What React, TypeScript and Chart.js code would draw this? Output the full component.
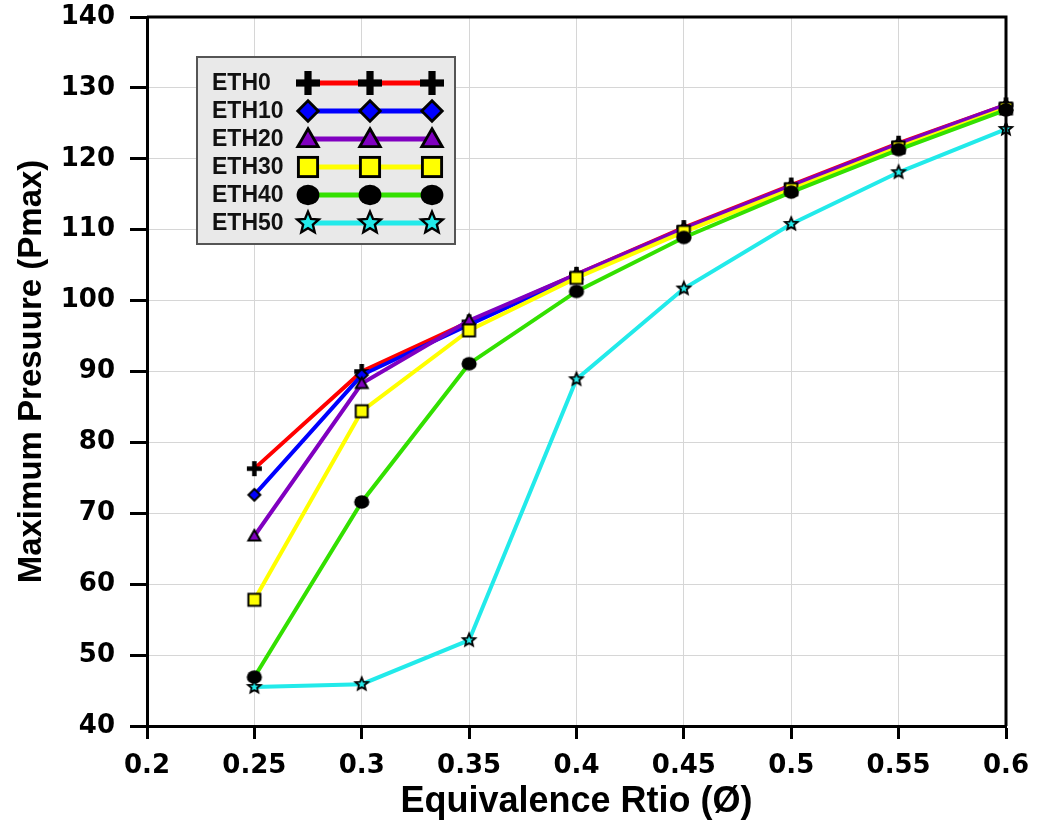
import React, { useEffect, useRef } from 'react';
import { Chart, registerables } from 'chart.js';

Chart.register(...registerables);

const ratios = [0.25, 0.3, 0.35, 0.4, 0.45, 0.5, 0.55, 0.6];
const seriesNames = ['ETH0', 'ETH10', 'ETH20', 'ETH30', 'ETH40', 'ETH50'];
const eth0 = [76.3, 90.0, 97.0, 103.7, 110.3, 116.3, 122.2, 127.6];
const eth10 = [72.6, 89.5, 96.6, 103.5, 110.0, 116.0, 122.0, 127.4];
const eth20 = [66.8, 88.3, 97.2, 103.7, 110.2, 116.2, 122.1, 127.6];
const eth30 = [57.8, 84.4, 95.8, 103.2, 109.7, 115.7, 121.6, 127.1];
const eth40 = [46.9, 71.6, 91.1, 101.3, 108.9, 115.3, 121.3, 126.9];
const eth50 = [45.5, 45.9, 52.1, 88.9, 101.7, 110.8, 118.1, 124.2];
const seriesValues = [eth0, eth10, eth20, eth30, eth40, eth50];
const seriesColors = ['#ff0000', '#0000ff', '#8000c0', '#ffff00', '#33e000', '#22eaea'];
const markerTypes = ['plus', 'diamond', 'triangle', 'square', 'circle', 'star'];
const markerFills = ['#000000', '#0000ff', '#8000c0', '#ffff00', '#000000', '#22eaea'];
const xMin = 0.2;
const xMax = 0.6;
const xStep = 0.05;
const yMin = 40;
const yMax = 140;
const yStep = 10;

function drawMarker(ctx: CanvasRenderingContext2D, type: string, cx: number, cy: number, size: number, fill: string) {
  const r = size / 2;
  ctx.save();
  ctx.lineJoin = 'miter';
  ctx.strokeStyle = '#000';
  ctx.lineWidth = Math.max(2, size * 0.12);
  if (type === 'plus') {
    const t = size * 0.3;
    ctx.fillStyle = '#000';
    ctx.fillRect(cx - r, cy - t / 2, size, t);
    ctx.fillRect(cx - t / 2, cy - r, t, size);
  } else if (type === 'diamond') {
    const d = r * 0.85;
    ctx.beginPath();
    ctx.moveTo(cx, cy - d);
    ctx.lineTo(cx + d, cy);
    ctx.lineTo(cx, cy + d);
    ctx.lineTo(cx - d, cy);
    ctx.closePath();
    ctx.fillStyle = fill;
    ctx.fill();
    ctx.stroke();
  } else if (type === 'triangle') {
    const d = r * 0.85;
    ctx.beginPath();
    ctx.moveTo(cx, cy - d);
    ctx.lineTo(cx + d, cy + d * 0.75);
    ctx.lineTo(cx - d, cy + d * 0.75);
    ctx.closePath();
    ctx.fillStyle = fill;
    ctx.fill();
    ctx.stroke();
  } else if (type === 'square') {
    const d = r * 0.8;
    ctx.fillStyle = fill;
    ctx.fillRect(cx - d, cy - d, 2 * d, 2 * d);
    ctx.strokeRect(cx - d, cy - d, 2 * d, 2 * d);
  } else if (type === 'circle') {
    ctx.beginPath();
    ctx.ellipse(cx, cy, r * 0.95, r * 0.85, 0, 0, Math.PI * 2);
    ctx.fillStyle = '#000';
    ctx.fill();
  } else if (type === 'star') {
    const ro = r * 0.95;
    const ri = ro * 0.45;
    ctx.beginPath();
    for (let i = 0; i < 10; i++) {
      const rr = i % 2 === 0 ? ro : ri;
      const a = -Math.PI / 2 + (i * Math.PI) / 5;
      const px = cx + rr * Math.cos(a);
      const py = cy + rr * Math.sin(a);
      if (i === 0) ctx.moveTo(px, py);
      else ctx.lineTo(px, py);
    }
    ctx.closePath();
    ctx.fillStyle = fill;
    ctx.fill();
    ctx.lineWidth = Math.max(1.8, size * 0.1);
    ctx.stroke();
  }
  ctx.restore();
}

function makeMarkerImage(type: string, fill: string, size: number) {
  const pad = 4;
  const c = document.createElement('canvas');
  c.width = size + pad * 2;
  c.height = size + pad * 2;
  const ctx = c.getContext('2d') as CanvasRenderingContext2D;
  drawMarker(ctx, type, c.width / 2, c.height / 2, size, fill);
  return c;
}

const frameLegendPlugin = {
  id: 'frameLegend',
  afterDatasetsDraw(chart: any) {
    const { ctx, chartArea } = chart;
    ctx.save();
    ctx.strokeStyle = '#000';
    ctx.lineWidth = 3;
    ctx.beginPath();
    ctx.moveTo(chartArea.left, chartArea.top);
    ctx.lineTo(chartArea.right, chartArea.top);
    ctx.lineTo(chartArea.right, chartArea.bottom);
    ctx.stroke();
    ctx.restore();
  },
  afterDraw(chart: any) {
    const { ctx } = chart;
    ctx.save();
    const bx = 197, by = 57, bw = 258, bh = 187;
    ctx.fillStyle = '#e9e9e9';
    ctx.fillRect(bx, by, bw, bh);
    ctx.strokeStyle = '#555';
    ctx.lineWidth = 2;
    ctx.strokeRect(bx, by, bw, bh);
    const rowY = [83, 111, 139, 167, 195, 223];
    seriesNames.forEach((name, i) => {
      const y = rowY[i];
      ctx.font = 'bold 23px "Liberation Sans", Arial, sans-serif';
      ctx.fillStyle = '#111';
      ctx.textAlign = 'left';
      ctx.textBaseline = 'middle';
      ctx.fillText(name, 212, y + 1);
      ctx.strokeStyle = seriesColors[i];
      ctx.lineWidth = 5;
      ctx.beginPath();
      ctx.moveTo(308, y);
      ctx.lineTo(432, y);
      ctx.stroke();
      [308, 370, 432].forEach((mx) => drawMarker(ctx, markerTypes[i], mx, y, 24, markerFills[i]));
    });
    ctx.restore();
  },
};

export default function App() {
  const canvasRef = useRef<HTMLCanvasElement | null>(null);

  useEffect(() => {
    const canvas = canvasRef.current;
    if (!canvas) return;
    const plotSizes = [15, 14, 14, 15, 16, 14];
    const datasets = seriesNames.map((name, i) => ({
      label: name,
      data: ratios.map((x, j) => ({ x, y: seriesValues[i][j] })),
      borderColor: seriesColors[i],
      backgroundColor: seriesColors[i],
      borderWidth: 4,
      pointStyle: makeMarkerImage(markerTypes[i], markerFills[i], plotSizes[i]),
      pointRadius: 7,
      tension: 0,
      clip: false as any,
      order: seriesNames.length - i,
    }));

    const chart = new Chart(canvas, {
      type: 'line',
      data: { datasets },
      plugins: [frameLegendPlugin],
      options: {
        animation: false,
        responsive: false,
        devicePixelRatio: 1,
        layout: { padding: { top: 17, right: 31, bottom: 0, left: 0 } },
        plugins: {
          legend: { display: false },
          tooltip: { enabled: false },
        },
        scales: {
          x: {
            type: 'linear',
            min: xMin,
            max: xMax,
            ticks: {
              stepSize: xStep,
              color: '#000',
              padding: 12,
              font: { family: '"DejaVu Sans", sans-serif', weight: 'bold', size: 26 },
              callback: (v: any) => String(parseFloat(Number(v).toFixed(2))),
              maxRotation: 0,
            },
            grid: { color: '#d6d6d6', lineWidth: 1, tickColor: '#000', tickWidth: 3, tickLength: 13 },
            border: { color: '#000', width: 3 },
            title: {
              display: true,
              text: 'Equivalence Rtio (Ø)',
              color: '#000',
              font: { family: '"Liberation Sans", Arial, sans-serif', weight: 'bold', size: 36 },
              padding: { top: 0, bottom: 1 },
            },
            afterFit: (scale: any) => {
              scale.height = 99;
              scale.paddingLeft = 0;
              scale.paddingRight = 0;
              scale.paddingTop = 0;
              scale.paddingBottom = 0;
            },
          },
          y: {
            type: 'linear',
            min: yMin,
            max: yMax,
            ticks: {
              stepSize: yStep,
              color: '#000',
              padding: 15,
              font: { family: '"DejaVu Sans", sans-serif', weight: 'bold', size: 26 },
            },
            grid: { color: '#d6d6d6', lineWidth: 1, tickColor: '#000', tickWidth: 3, tickLength: 17 },
            border: { color: '#000', width: 3 },
            title: {
              display: true,
              text: 'Maximum Presuure (Pmax)',
              color: '#000',
              font: { family: '"Liberation Sans", Arial, sans-serif', weight: 'bold', size: 33 },
              padding: { top: 12, bottom: 0 },
            },
            afterFit: (scale: any) => {
              scale.width = 147;
              scale.paddingLeft = 0;
              scale.paddingRight = 0;
              scale.paddingTop = 0;
              scale.paddingBottom = 0;
            },
          },
        },
      } as any,
    });
    return () => chart.destroy();
  }, []);

  return (
    <div style={{ position: 'absolute', left: 0, top: 0, width: 1037, height: 825, background: '#fff' }}>
      <canvas ref={canvasRef} width={1037} height={825} style={{ display: 'block' }} />
    </div>
  );
}
